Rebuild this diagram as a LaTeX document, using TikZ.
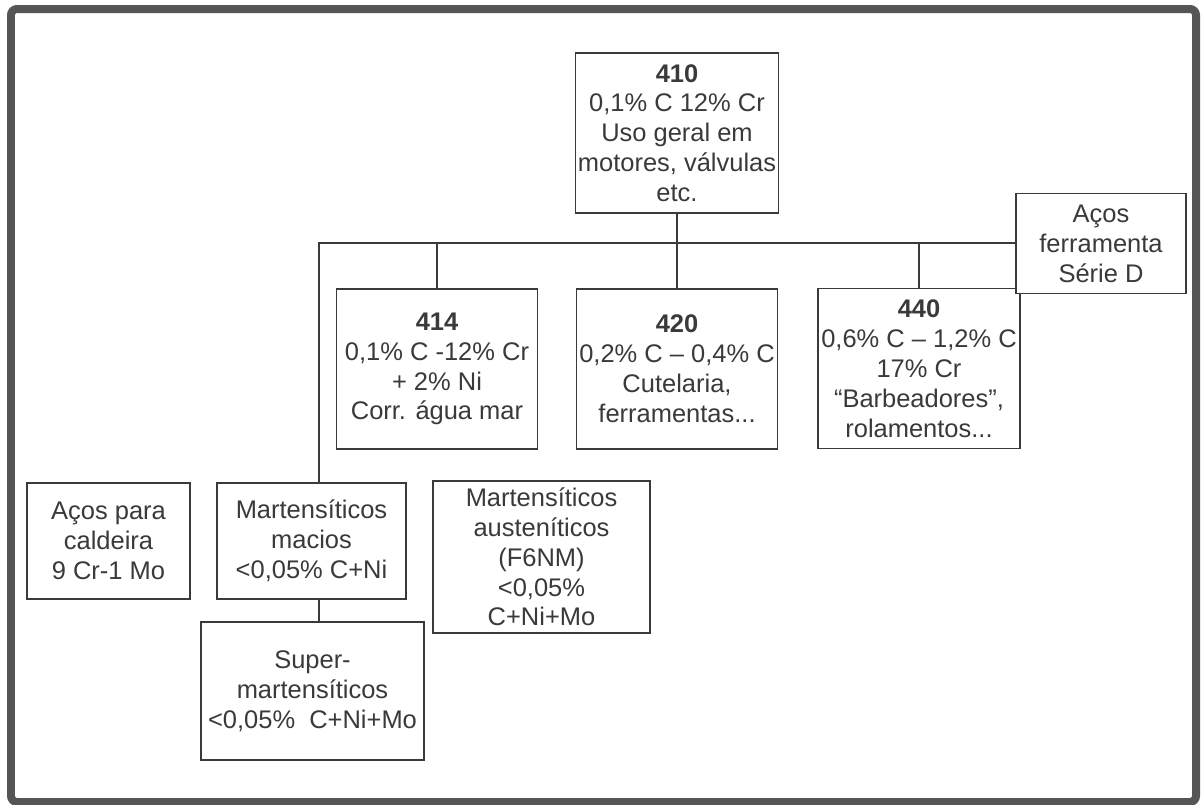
\documentclass[tikz,border=0pt]{standalone}
\usepackage{fontspec}
\setmainfont{Liberation Sans}
\usepackage{xcolor}
\usepackage{tikz}

\definecolor{moldura}{HTML}{555555}
\definecolor{tinta}{HTML}{3A3A3A}

\tikzset{
	caixa/.style={draw=tinta, line width=1.1pt, fill=white, align=center, inner sep=0pt,
		text=tinta, font=\fontsize{14.5}{17}\selectfont},
	ligacao/.style={draw=tinta, line width=1.1pt}
}

\begin{document}
\begin{tikzpicture}[x=0.02cm, y=-0.02cm]

\useasboundingbox (0,0) rectangle (1201,805);
\fill[white] (0,0) rectangle (1201,805);
\draw[moldura, line width=0.16cm, rounded corners=0.12cm] (11,9) rectangle (1196,802);

% linha principal
\coordinate (bus) at (319,243);

\node[caixa, minimum width=4.06cm, minimum height=3.2cm] (n410) at (677,133)
	{\textbf{410}\\0,1\% C 12\% Cr\\Uso geral em\\motores, válvulas\\etc.};

\node[caixa, minimum width=4.02cm, minimum height=3.2cm] (n414) at (437,369)
	{\textbf{414}\\0,1\% C -12\% Cr\\+ 2\% Ni\\Corr. água mar};
\node[caixa, minimum width=4.02cm, minimum height=3.2cm] (n420) at (677,369)
	{\textbf{420}\\0,2\% C -- 0,4\% C\\Cutelaria,\\ferramentas...};
\node[caixa, minimum width=4.04cm, minimum height=3.2cm] (n440) at (919,368.5)
	{\textbf{440}\\0,6\% C -- 1,2\% C\\17\% Cr\\“Barbeadores”,\\rolamentos...};

\node[caixa, minimum width=3.4cm, minimum height=2.0cm] (ferr) at (1101,243.5)
	{Aços\\ferramenta\\Série D};

\node[caixa, minimum width=3.26cm, minimum height=2.32cm] (caldeira) at (108.5,541)
	{Aços para\\caldeira\\9 Cr-1 Mo};
\node[caixa, minimum width=3.78cm, minimum height=2.32cm] (macios) at (311.5,541)
	{Martensíticos\\macios\\<0,05\% C+Ni};
\node[caixa, minimum width=4.34cm, minimum height=3.04cm] (austen) at (541.5,557)
	{Martensíticos\\austeníticos\\(F6NM)\\<0,05\%\\C+Ni+Mo};
\node[caixa, minimum width=4.46cm, minimum height=2.76cm] (super) at (312.5,691)
	{Super-\\martensíticos\\<0,05\%~~C+Ni+Mo};

% ligacoes
\draw[ligacao] (macios.north -| bus) -- (bus) -- (bus -| ferr.west);
\draw[ligacao] (n410.south) -- (n420.north);
\draw[ligacao] (n414.north) -- (n414.north |- bus);
\draw[ligacao] (n440.north) -- (n440.north |- bus);
\draw[ligacao] (macios.south -| bus) -- (super.north -| bus);

\end{tikzpicture}
\end{document}
